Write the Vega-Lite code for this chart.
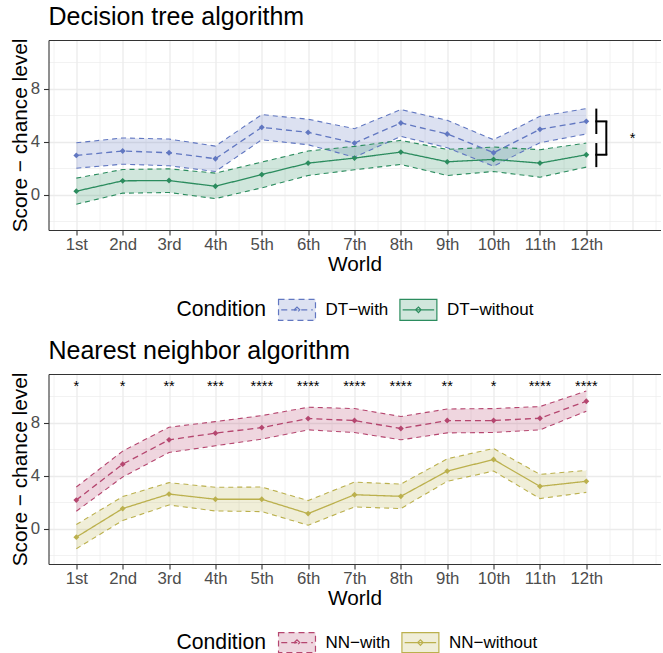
{
  "$schema": "https://vega.github.io/schema/vega-lite/v6.json",
  "padding": {"left": 8.5, "top": 5, "right": 0, "bottom": 0},
  "spacing": 144,
  "bounds": "flush",
  "resolve": {"scale": {"fill": "independent", "stroke": "independent", "strokeDash": "independent"}, "legend": {"fill": "independent", "stroke": "independent"}},
  "config": {
    "font": "Liberation Sans",
    "view": {"stroke": null},
    "axis": {"domainColor": "#333333", "domainWidth": 1.1, "tickColor": "#333333", "tickWidth": 1.1, "tickSize": 5, "labelColor": "#4D4D4D", "labelFontSize": 16.8, "labelFont": "Liberation Sans", "titleFont": "Liberation Sans", "titleFontSize": 20.8, "titleFontWeight": "normal", "titleColor": "black", "gridColor": "#EBEBEB"},
    "title": {"fontSize": 25, "fontWeight": "normal", "anchor": "start", "frame": "group", "color": "black", "offset": 8, "font": "Liberation Sans"},
    "legend": {"titleFontSize": 21.2, "titleFontWeight": "normal", "titleColor": "black", "labelFontSize": 17, "labelColor": "black", "titleFont": "Liberation Sans", "labelFont": "Liberation Sans", "padding": 0}
  },
  "datasets": {
    "dt": [
      {"World": "1st", "idx": 1, "Condition": "DT−with", "mean": 2.97, "lo": 2.01, "hi": 3.92},
      {"World": "2nd", "idx": 2, "Condition": "DT−with", "mean": 3.30, "lo": 2.31, "hi": 4.28},
      {"World": "3rd", "idx": 3, "Condition": "DT−with", "mean": 3.17, "lo": 2.19, "hi": 4.20},
      {"World": "4th", "idx": 4, "Condition": "DT−with", "mean": 2.72, "lo": 1.76, "hi": 3.67},
      {"World": "5th", "idx": 5, "Condition": "DT−with", "mean": 5.08, "lo": 4.15, "hi": 6.04},
      {"World": "6th", "idx": 6, "Condition": "DT−with", "mean": 4.70, "lo": 3.77, "hi": 5.69},
      {"World": "7th", "idx": 7, "Condition": "DT−with", "mean": 3.90, "lo": 2.84, "hi": 4.98},
      {"World": "8th", "idx": 8, "Condition": "DT−with", "mean": 5.41, "lo": 4.40, "hi": 6.42},
      {"World": "9th", "idx": 9, "Condition": "DT−with", "mean": 4.58, "lo": 3.55, "hi": 5.61},
      {"World": "10th", "idx": 10, "Condition": "DT−with", "mean": 3.17, "lo": 2.16, "hi": 4.15},
      {"World": "11th", "idx": 11, "Condition": "DT−with", "mean": 4.93, "lo": 3.92, "hi": 5.91},
      {"World": "12th", "idx": 12, "Condition": "DT−with", "mean": 5.53, "lo": 4.58, "hi": 6.49},
      {"World": "1st", "idx": 1, "Condition": "DT−without", "mean": 0.28, "lo": -0.70, "hi": 1.26},
      {"World": "2nd", "idx": 2, "Condition": "DT−without", "mean": 1.06, "lo": 0.13, "hi": 1.91},
      {"World": "3rd", "idx": 3, "Condition": "DT−without", "mean": 1.08, "lo": 0.18, "hi": 1.96},
      {"World": "4th", "idx": 4, "Condition": "DT−without", "mean": 0.65, "lo": -0.28, "hi": 1.64},
      {"World": "5th", "idx": 5, "Condition": "DT−without", "mean": 1.53, "lo": 0.53, "hi": 2.47},
      {"World": "6th", "idx": 6, "Condition": "DT−without", "mean": 2.39, "lo": 1.46, "hi": 3.30},
      {"World": "7th", "idx": 7, "Condition": "DT−without", "mean": 2.77, "lo": 1.89, "hi": 3.65},
      {"World": "8th", "idx": 8, "Condition": "DT−without", "mean": 3.22, "lo": 2.29, "hi": 4.10},
      {"World": "9th", "idx": 9, "Condition": "DT−without", "mean": 2.49, "lo": 1.46, "hi": 3.42},
      {"World": "10th", "idx": 10, "Condition": "DT−without", "mean": 2.67, "lo": 1.76, "hi": 3.60},
      {"World": "11th", "idx": 11, "Condition": "DT−without", "mean": 2.39, "lo": 1.33, "hi": 3.40},
      {"World": "12th", "idx": 12, "Condition": "DT−without", "mean": 3.02, "lo": 2.09, "hi": 3.90}
    ],
    "nn": [
      {"World": "1st", "idx": 1, "Condition": "NN−with", "mean": 2.17, "lo": 1.33, "hi": 3.15},
      {"World": "2nd", "idx": 2, "Condition": "NN−with", "mean": 4.87, "lo": 3.90, "hi": 5.85},
      {"World": "3rd", "idx": 3, "Condition": "NN−with", "mean": 6.70, "lo": 5.75, "hi": 7.65},
      {"World": "4th", "idx": 4, "Condition": "NN−with", "mean": 7.20, "lo": 6.25, "hi": 8.07},
      {"World": "5th", "idx": 5, "Condition": "NN−with", "mean": 7.62, "lo": 6.75, "hi": 8.52},
      {"World": "6th", "idx": 6, "Condition": "NN−with", "mean": 8.30, "lo": 7.45, "hi": 9.15},
      {"World": "7th", "idx": 7, "Condition": "NN−with", "mean": 8.15, "lo": 7.25, "hi": 9.05},
      {"World": "8th", "idx": 8, "Condition": "NN−with", "mean": 7.55, "lo": 6.70, "hi": 8.45},
      {"World": "9th", "idx": 9, "Condition": "NN−with", "mean": 8.15, "lo": 7.22, "hi": 9.02},
      {"World": "10th", "idx": 10, "Condition": "NN−with", "mean": 8.15, "lo": 7.25, "hi": 9.05},
      {"World": "11th", "idx": 11, "Condition": "NN−with", "mean": 8.32, "lo": 7.45, "hi": 9.20},
      {"World": "12th", "idx": 12, "Condition": "NN−with", "mean": 9.60, "lo": 8.85, "hi": 10.37},
      {"World": "1st", "idx": 1, "Condition": "NN−without", "mean": -0.62, "lo": -1.49, "hi": 0.33},
      {"World": "2nd", "idx": 2, "Condition": "NN−without", "mean": 1.53, "lo": 0.63, "hi": 2.43},
      {"World": "3rd", "idx": 3, "Condition": "NN−without", "mean": 2.62, "lo": 1.80, "hi": 3.48},
      {"World": "4th", "idx": 4, "Condition": "NN−without", "mean": 2.23, "lo": 1.35, "hi": 3.13},
      {"World": "5th", "idx": 5, "Condition": "NN−without", "mean": 2.23, "lo": 1.30, "hi": 3.15},
      {"World": "6th", "idx": 6, "Condition": "NN−without", "mean": 1.15, "lo": 0.28, "hi": 2.13},
      {"World": "7th", "idx": 7, "Condition": "NN−without", "mean": 2.57, "lo": 1.65, "hi": 3.52},
      {"World": "8th", "idx": 8, "Condition": "NN−without", "mean": 2.45, "lo": 1.53, "hi": 3.37},
      {"World": "9th", "idx": 9, "Condition": "NN−without", "mean": 4.35, "lo": 3.58, "hi": 5.27},
      {"World": "10th", "idx": 10, "Condition": "NN−without", "mean": 5.22, "lo": 4.35, "hi": 6.05},
      {"World": "11th", "idx": 11, "Condition": "NN−without", "mean": 3.20, "lo": 2.28, "hi": 4.10},
      {"World": "12th", "idx": 12, "Condition": "NN−without", "mean": 3.58, "lo": 2.75, "hi": 4.40}
    ],
    "nnsig": [
      {"idx": 1, "sig": "*"}, {"idx": 2, "sig": "*"}, {"idx": 3, "sig": "**"}, {"idx": 4, "sig": "***"},
      {"idx": 5, "sig": "****"}, {"idx": 6, "sig": "****"}, {"idx": 7, "sig": "****"}, {"idx": 8, "sig": "****"},
      {"idx": 9, "sig": "**"}, {"idx": 10, "sig": "*"}, {"idx": 11, "sig": "****"}, {"idx": 12, "sig": "****"}
    ],
    "dtsig": [{"comparison": "DT−with vs DT−without", "sig": "*"}]
  },
  "vconcat": [
    {
      "width": 612, "height": 190,
      "title": {"text": "Decision tree algorithm"},
      "data": {"name": "dt"},
      "resolve": {"axis": {"x": "independent", "y": "independent"}},
      "layer": [
        {
          "mark": {"type": "area", "fillOpacity": 0.22},
          "encoding": {
            "x": {"field": "idx", "type": "quantitative", "scale": {"domain": [0.4, 13.6], "nice": false, "zero": false},
              "axis": {"title": "World", "titlePadding": 2, "values": [0.5,1,1.5,2,2.5,3,3.5,4,4.5,5,5.5,6,6.5,7,7.5,8,8.5,9,9.5,10,10.5,11,11.5,12,12.5,13,13.5],
                "labelExpr": "(datum.value % 1 === 0 && datum.value <= 12) ? ['1st','2nd','3rd','4th','5th','6th','7th','8th','9th','10th','11th','12th'][datum.value - 1] : ''",
                "labelOverlap": false, "labelFlush": false, "labelBound": false, "labelPadding": 1,
                "tickOpacity": {"condition": {"test": "datum.value % 1 !== 0 || datum.value > 12", "value": 0}, "value": 1},
                "gridWidth": {"condition": {"test": "datum.value % 1 === 0", "value": 1.3}, "value": 0.65}, "grid": true}},
            "y": {"field": "lo", "type": "quantitative", "stack": null, "scale": {"domain": [-2.64, 11.65], "nice": false, "zero": false},
              "axis": {"title": "Score − chance level", "titlePadding": 0, "values": [-2,0,2,4,6,8,10],
                "labelExpr": "datum.value % 4 === 0 ? ('' + datum.value) : ''", "labelOverlap": false, "labelPadding": 4, "labelBound": false, "labelFlush": false,
                "tickOpacity": {"condition": {"test": "datum.value % 4 !== 0", "value": 0}, "value": 1},
                "gridWidth": {"condition": {"test": "datum.value % 4 === 0", "value": 1.3}, "value": 0.65}, "grid": true}},
            "y2": {"field": "hi"},
            "fill": {"field": "Condition", "type": "nominal", "scale": {"domain": ["DT−with", "DT−without"], "range": ["#6177C1", "#2B8C5E"]},
              "legend": {"title": "Condition", "orient": "none", "legendX": 128, "legendY": 258, "direction": "horizontal", "titleOrient": "left", "titlePadding": 19, "labelOffset": 17, "columnPadding": 8.4,
                "symbolType": "M-1.76,-1H1.76V1H-1.76Z M-1.5,0H1.5 M0,-0.26L0.26,0L0,0.26L-0.26,0Z", "symbolSize": 441, "symbolStrokeWidth": 1.2, "symbolDash": [4, 3], "symbolOpacity": 1,
                "encoding": {"symbols": {"fillOpacity": {"value": 0.22}, "strokeDash": {"value": [4, 3]}, "strokeWidth": {"value": 1.2}, "opacity": {"value": 1}}}}}
          }
        },
        {
          "mark": {"type": "line", "strokeDash": [5, 4], "strokeWidth": 1.1},
          "encoding": {
            "x": {"field": "idx", "type": "quantitative", "axis": {"orient": "top", "labels": false, "ticks": false, "grid": false, "title": null, "domain": true}},
            "y": {"field": "lo", "type": "quantitative", "axis": null},
            "stroke": {"field": "Condition", "type": "nominal", "scale": {"domain": ["DT−with", "DT−without"], "range": ["#6177C1", "#2B8C5E"]},
              "legend": {"title": "Condition", "orient": "none", "legendX": 128, "legendY": 258, "direction": "horizontal", "titleOrient": "left", "titlePadding": 19, "labelOffset": 17, "columnPadding": 8.4,
                "symbolType": "M-1.76,-1H1.76V1H-1.76Z M-1.5,0H1.5 M0,-0.26L0.26,0L0,0.26L-0.26,0Z", "symbolSize": 441, "symbolStrokeWidth": 1.2, "symbolDash": [4, 3], "symbolOpacity": 1,
                "encoding": {"symbols": {"fillOpacity": {"value": 0.22}, "strokeDash": {"value": [4, 3]}, "strokeWidth": {"value": 1.2}, "opacity": {"value": 1}}}}}
          }
        },
        {
          "mark": {"type": "line", "strokeDash": [5, 4], "strokeWidth": 1.1},
          "encoding": {
            "x": {"field": "idx", "type": "quantitative", "axis": null},
            "y": {"field": "hi", "type": "quantitative", "axis": null},
            "stroke": {"field": "Condition", "type": "nominal", "legend": null}
          }
        },
        {
          "mark": {"type": "line", "strokeWidth": 1.3},
          "encoding": {
            "x": {"field": "idx", "type": "quantitative", "axis": null},
            "y": {"field": "mean", "type": "quantitative", "axis": null},
            "stroke": {"field": "Condition", "type": "nominal", "legend": null},
            "strokeDash": {"field": "Condition", "type": "nominal", "scale": {"domain": ["DT−with", "DT−without"], "range": [[6, 4], [1, 0]]}, "legend": null}
          }
        },
        {
          "mark": {"type": "point", "shape": "diamond", "filled": true, "size": 34, "opacity": 1},
          "encoding": {
            "x": {"field": "idx", "type": "quantitative", "axis": null},
            "y": {"field": "mean", "type": "quantitative", "axis": null},
            "fill": {"field": "Condition", "type": "nominal", "legend": null}
          }
        },
        {
          "transform": [{"filter": "datum.idx === 12"}],
          "mark": {"type": "rule", "xOffset": 10, "strokeWidth": 2, "color": "black"},
          "encoding": {
            "x": {"field": "idx", "type": "quantitative", "axis": null},
            "y": {"field": "lo", "type": "quantitative", "axis": null},
            "y2": {"field": "hi"}
          }
        },
        {
          "transform": [{"filter": "datum.idx === 12"}],
          "mark": {"type": "rule", "xOffset": 10, "x2Offset": 20, "strokeWidth": 2, "strokeCap": "square", "color": "black"},
          "encoding": {
            "x": {"field": "idx", "type": "quantitative", "axis": null},
            "x2": {"field": "idx"},
            "y": {"field": "mean", "type": "quantitative", "axis": null}
          }
        },
        {
          "transform": [{"filter": "datum.idx === 12"}, {"pivot": "Condition", "value": "mean", "groupby": ["idx"]}],
          "mark": {"type": "rule", "xOffset": 20, "strokeWidth": 2, "color": "black"},
          "encoding": {
            "x": {"field": "idx", "type": "quantitative", "axis": null},
            "y": {"field": "DT−with", "type": "quantitative", "axis": null},
            "y2": {"field": "DT−without"}
          }
        },
        {
          "data": {"name": "dtsig"},
          "mark": {"type": "text", "fontSize": 14.5, "baseline": "alphabetic", "align": "center", "color": "black", "font": "Liberation Sans"},
          "encoding": {
            "x": {"datum": 13, "type": "quantitative", "axis": null},
            "y": {"datum": 3.92, "type": "quantitative", "axis": null},
            "text": {"field": "sig"}
          }
        }
      ]
    },
    {
      "width": 612, "height": 190,
      "title": {"text": "Nearest neighbor algorithm"},
      "data": {"name": "nn"},
      "resolve": {"axis": {"x": "independent", "y": "independent"}},
      "layer": [
        {
          "mark": {"type": "area", "fillOpacity": 0.22},
          "encoding": {
            "x": {"field": "idx", "type": "quantitative", "scale": {"domain": [0.4, 13.6], "nice": false, "zero": false},
              "axis": {"title": "World", "titlePadding": 2, "values": [0.5,1,1.5,2,2.5,3,3.5,4,4.5,5,5.5,6,6.5,7,7.5,8,8.5,9,9.5,10,10.5,11,11.5,12,12.5,13,13.5],
                "labelExpr": "(datum.value % 1 === 0 && datum.value <= 12) ? ['1st','2nd','3rd','4th','5th','6th','7th','8th','9th','10th','11th','12th'][datum.value - 1] : ''",
                "labelOverlap": false, "labelFlush": false, "labelBound": false, "labelPadding": 1,
                "tickOpacity": {"condition": {"test": "datum.value % 1 !== 0 || datum.value > 12", "value": 0}, "value": 1},
                "gridWidth": {"condition": {"test": "datum.value % 1 === 0", "value": 1.3}, "value": 0.65}, "grid": true}},
            "y": {"field": "lo", "type": "quantitative", "stack": null, "scale": {"domain": [-2.64, 11.65], "nice": false, "zero": false},
              "axis": {"title": "Score − chance level", "titlePadding": 0, "values": [-2,0,2,4,6,8,10],
                "labelExpr": "datum.value % 4 === 0 ? ('' + datum.value) : ''", "labelOverlap": false, "labelPadding": 4, "labelBound": false, "labelFlush": false,
                "tickOpacity": {"condition": {"test": "datum.value % 4 !== 0", "value": 0}, "value": 1},
                "gridWidth": {"condition": {"test": "datum.value % 4 === 0", "value": 1.3}, "value": 0.65}, "grid": true}},
            "y2": {"field": "hi"},
            "fill": {"field": "Condition", "type": "nominal", "scale": {"domain": ["NN−with", "NN−without"], "range": ["#B5466F", "#BBB04D"]},
              "legend": {"title": "Condition", "orient": "none", "legendX": 128, "legendY": 257, "direction": "horizontal", "titleOrient": "left", "titlePadding": 19, "labelOffset": 17, "columnPadding": 8.4,
                "symbolType": "M-1.76,-0.95H1.76V0.95H-1.76Z M-1.5,0H1.5 M0,-0.26L0.26,0L0,0.26L-0.26,0Z", "symbolSize": 441, "symbolStrokeWidth": 1.2, "symbolDash": [4, 3], "symbolOpacity": 1,
                "encoding": {"symbols": {"fillOpacity": {"value": 0.22}, "strokeDash": {"value": [4, 3]}, "strokeWidth": {"value": 1.2}, "opacity": {"value": 1}}}}}
          }
        },
        {
          "mark": {"type": "line", "strokeDash": [5, 4], "strokeWidth": 1.1},
          "encoding": {
            "x": {"field": "idx", "type": "quantitative", "axis": {"orient": "top", "labels": false, "ticks": false, "grid": false, "title": null, "domain": true}},
            "y": {"field": "lo", "type": "quantitative", "axis": null},
            "stroke": {"field": "Condition", "type": "nominal", "scale": {"domain": ["NN−with", "NN−without"], "range": ["#B5466F", "#BBB04D"]},
              "legend": {"title": "Condition", "orient": "none", "legendX": 128, "legendY": 257, "direction": "horizontal", "titleOrient": "left", "titlePadding": 19, "labelOffset": 17, "columnPadding": 8.4,
                "symbolType": "M-1.76,-0.95H1.76V0.95H-1.76Z M-1.5,0H1.5 M0,-0.26L0.26,0L0,0.26L-0.26,0Z", "symbolSize": 441, "symbolStrokeWidth": 1.2, "symbolDash": [4, 3], "symbolOpacity": 1,
                "encoding": {"symbols": {"fillOpacity": {"value": 0.22}, "strokeDash": {"value": [4, 3]}, "strokeWidth": {"value": 1.2}, "opacity": {"value": 1}}}}}
          }
        },
        {
          "mark": {"type": "line", "strokeDash": [5, 4], "strokeWidth": 1.1},
          "encoding": {
            "x": {"field": "idx", "type": "quantitative", "axis": null},
            "y": {"field": "hi", "type": "quantitative", "axis": null},
            "stroke": {"field": "Condition", "type": "nominal", "legend": null}
          }
        },
        {
          "mark": {"type": "line", "strokeWidth": 1.3},
          "encoding": {
            "x": {"field": "idx", "type": "quantitative", "axis": null},
            "y": {"field": "mean", "type": "quantitative", "axis": null},
            "stroke": {"field": "Condition", "type": "nominal", "legend": null},
            "strokeDash": {"field": "Condition", "type": "nominal", "scale": {"domain": ["NN−with", "NN−without"], "range": [[6, 4], [1, 0]]}, "legend": null}
          }
        },
        {
          "mark": {"type": "point", "shape": "diamond", "filled": true, "size": 34, "opacity": 1},
          "encoding": {
            "x": {"field": "idx", "type": "quantitative", "axis": null},
            "y": {"field": "mean", "type": "quantitative", "axis": null},
            "fill": {"field": "Condition", "type": "nominal", "legend": null}
          }
        },
        {
          "data": {"name": "nnsig"},
          "mark": {"type": "text", "fontSize": 14.5, "baseline": "alphabetic", "align": "center", "color": "black", "font": "Liberation Sans"},
          "encoding": {
            "x": {"field": "idx", "type": "quantitative", "axis": null},
            "y": {"datum": 10.4, "type": "quantitative", "axis": null},
            "text": {"field": "sig"}
          }
        }
      ]
    }
  ]
}
